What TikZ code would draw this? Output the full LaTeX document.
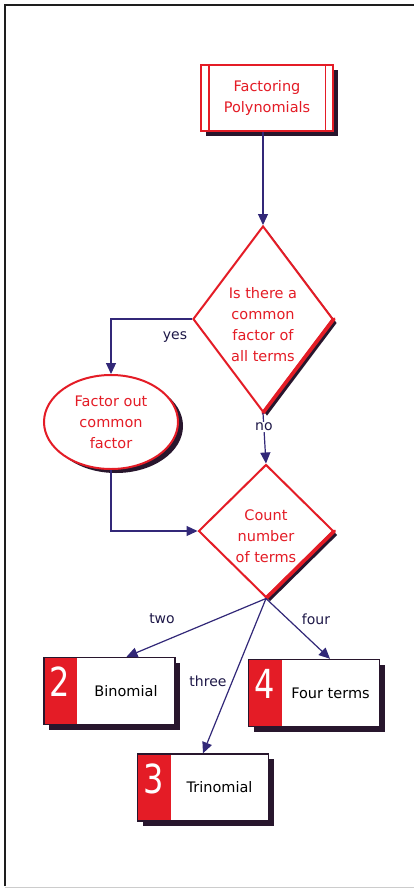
\documentclass[tikz,border=0pt]{standalone}
\usepackage{fontspec}
\usepackage{graphicx}
\setmainfont{DejaVu Sans}
\usetikzlibrary{shapes.geometric,arrows.meta,shadows}
\definecolor{redc}{RGB}{228,28,38}
\definecolor{navy}{RGB}{50,40,120}
\definecolor{shad}{RGB}{40,22,45}
\definecolor{framec}{RGB}{30,30,30}
\tikzset{
  redtext/.style={text=redc,font=\fontsize{14.5}{21}\selectfont,align=center},
  shd/.style={drop shadow={shadow xshift=5pt,shadow yshift=-5pt,fill=shad,opacity=1}},
  startbox/.style={draw=redc,line width=2.4pt,fill=white,minimum width=132pt,minimum height=66pt,inner sep=0pt,shd},
  decision/.style={diamond,draw=redc,line width=2pt,fill=white,inner sep=0pt,
    drop shadow={shadow xshift=4pt,shadow yshift=-4pt,fill=shad,opacity=1}},
  procell/.style={ellipse,draw=redc,line width=2pt,fill=white,minimum width=134pt,minimum height=94pt,inner sep=0pt,
    drop shadow={shadow xshift=5pt,shadow yshift=-4pt,fill=shad,opacity=1}},
  termbox/.style={draw=shad,line width=1.4pt,fill=white,minimum width=131pt,minimum height=67pt,inner sep=0pt,shd,
    path picture={\fill[redc] (path picture bounding box.north west) rectangle ([xshift=33pt]path picture bounding box.south west);}},
  numtext/.style={text=white,font=\fontsize{40}{40}\selectfont,inner sep=0pt},
  boxtext/.style={text=black,font=\fontsize{14.5}{16}\selectfont,inner sep=0pt},
  conn/.style={draw=navy,line width=1.2pt,-{Triangle[length=11pt,width=10pt]}},
  lbl/.style={text=navy!60!black,font=\fontsize{14}{16}\selectfont,inner sep=1pt}
}
\begin{document}
\begin{tikzpicture}[x=1pt,y=-1pt]
\useasboundingbox (0,0) rectangle (415,888);
\fill[white] (0,0) rectangle (415,888);
% frame
\draw[framec,line width=2pt] (5,886) -- (5,5) -- (414,5);
\draw[gray!40,line width=1pt] (5,887) -- (414,887);

% start
\node[startbox] (start) at (267,98) {};
\draw[redc,line width=1.4pt] ([xshift=9pt]start.north west) -- ([xshift=9pt]start.south west);
\draw[redc,line width=1.4pt] ([xshift=-9pt]start.north east) -- ([xshift=-9pt]start.south east);
\node[redtext] (starttext) at (start.center) {Factoring\\Polynomials};

% decision 1
\node[decision,minimum width=140pt,minimum height=186pt] (d1) at (263,319) {};
\draw[redc,line width=3.4pt,line cap=round] (d1.east) -- (d1.south);
\node[redtext] (d1text) at ([yshift=-6pt]d1.center) {Is there a\\common\\factor of\\all terms};

% ellipse
\node[procell] (e1) at (111,422) {};
\node[redtext] (e1text) at (e1.center) {Factor out\\common\\factor};

% decision 2
\node[decision,minimum width=135pt,minimum height=133pt] (d2) at (266,531) {};
\draw[redc,line width=3.4pt,line cap=round] (d2.east) -- (d2.south);
\node[redtext] (d2text) at ([yshift=-5pt]d2.center) {Count\\number\\of terms};

% term boxes
\node[termbox] (b2) at (109.5,691) {};
\node[numtext] (n2) at ([xshift=16.5pt,yshift=9pt]b2.west) {\scalebox{0.8}[1]{2}};
\node[boxtext] (t2) at ([xshift=16.5pt]b2.center) {Binomial};

\node[termbox] (b4) at (314,693) {};
\node[numtext] (n4) at ([xshift=16.5pt,yshift=9pt]b4.west) {\scalebox{0.8}[1]{4}};
\node[boxtext] (t4) at ([xshift=16.5pt]b4.center) {Four terms};

\node[termbox] (b3) at (203,787.5) {};
\node[numtext] (n3) at ([xshift=16.5pt,yshift=9pt]b3.west) {\scalebox{0.8}[1]{3}};
\node[boxtext] (t3) at ([xshift=16.5pt]b3.center) {Trinomial};

% connectors
\draw[conn] (start.south -| d1.north) -- (d1.north);
\draw[conn] (d1.west) -| (e1.north);
\node[lbl] (yes) at (175,337) {yes};
\draw[conn] (d1.south) -- node[lbl,fill=white,pos=0.28] (no) {no} (d2.north);
\draw[conn] (e1.south) |- (d2.west);
\draw[conn] (d2.south) -- ([xshift=17pt]b2.north);
\draw[conn] (d2.south) -- ([xshift=16pt]b4.north);
\draw[conn] (d2.south) -- (b3.north);
\node[lbl] (two) at (162,619) {two};
\node[lbl] (four) at (316,619) {four};
\node[lbl] (three) at (208,681) {three};
\end{tikzpicture}
\end{document}
